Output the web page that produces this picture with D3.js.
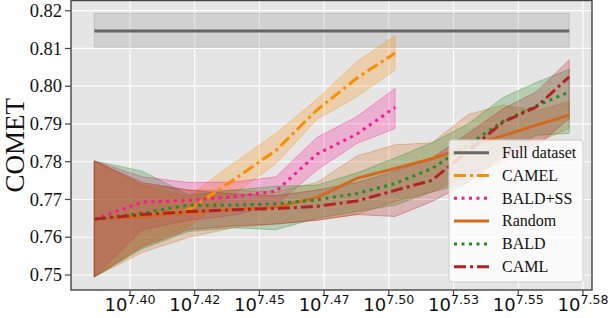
<!DOCTYPE html>
<html lang="en">
<head>
  <meta charset="UTF-8" />
  <title>COMET vs data size</title>
  <script src="https://d3js.org/d3.v7.min.js"></script>
  <style>
    body {
      margin: 0;
      background: #fff;
    }
    svg {
      display: block;
    }
    .grid line {
      stroke: #fff;
      stroke-width: 1.2px;
    }
    .tick-mark {
      stroke: #444;
      stroke-width: 1.2px;
    }
    .band {
      fill-opacity: 0.25;
      stroke-opacity: 0.35;
      stroke-width: 1px;
    }
    .line {
      fill: none;
      stroke-width: 3px;
    }
  </style>
</head>
<body>
<svg width="610" height="318"></svg>
<script>
// x values are log10 of the training set size
const xLog = [7.3862, 7.4048, 7.4226, 7.4398, 7.4564, 7.4722, 7.4876, 7.5024, 7.5167, 7.5306, 7.5441, 7.5570, 7.5697];
// CAMEL and BALD+SS stop earlier
const xShort = [7.3862, 7.4048, 7.4226, 7.4398, 7.4564, 7.4722, 7.4876, 7.5024];

const fullX = [7.3862, 7.5697];
const fullMean = [0.8146, 0.8146];
const fullLo = [0.8103, 0.8103];
const fullHi = [0.8193, 0.8193];

const camelMean = [0.7648, 0.7658, 0.7672, 0.7751, 0.7830, 0.7937, 0.8021, 0.8088];
const camelLo = [0.7495, 0.7580, 0.7628, 0.7712, 0.7795, 0.7912, 0.7972, 0.8043];
const camelHi = [0.7802, 0.7738, 0.7708, 0.7795, 0.7875, 0.7965, 0.8065, 0.8133];

const baldSSMean = [0.7648, 0.7693, 0.7698, 0.7707, 0.7722, 0.7820, 0.7873, 0.7944];
const baldSSLo = [0.7495, 0.7620, 0.7645, 0.7658, 0.7685, 0.7778, 0.7848, 0.7888];
const baldSSHi = [0.7802, 0.7760, 0.7745, 0.7746, 0.7760, 0.7864, 0.7919, 0.7994];

const randomMean = [0.7648, 0.7655, 0.7665, 0.7673, 0.7680, 0.7705, 0.7756, 0.7782, 0.7808, 0.7840, 0.7869, 0.7897, 0.7923];
const randomLo = [0.7495, 0.7560, 0.7600, 0.7625, 0.7635, 0.7645, 0.7660, 0.7695, 0.7720, 0.7765, 0.7800, 0.7850, 0.7889];
const randomHi = [0.7802, 0.7740, 0.7725, 0.7725, 0.7720, 0.7745, 0.7815, 0.7845, 0.7850, 0.7925, 0.7950, 0.7935, 0.7959];

const baldMean = [0.7648, 0.7664, 0.7685, 0.7685, 0.7689, 0.7699, 0.7716, 0.7742, 0.7782, 0.7845, 0.7907, 0.7948, 0.7985];
const baldLo = [0.7495, 0.7570, 0.7615, 0.7625, 0.7620, 0.7650, 0.7668, 0.7685, 0.7720, 0.7745, 0.7820, 0.7870, 0.7875];
const baldHi = [0.7802, 0.7775, 0.7712, 0.7725, 0.7735, 0.7738, 0.7770, 0.7810, 0.7850, 0.7900, 0.7970, 0.8010, 0.8045];

const camlMean = [0.7648, 0.7660, 0.7668, 0.7673, 0.7676, 0.7682, 0.7696, 0.7724, 0.7751, 0.7828, 0.7905, 0.7945, 0.8025];
const camlLo = [0.7495, 0.7575, 0.7620, 0.7630, 0.7635, 0.7645, 0.7660, 0.7655, 0.7695, 0.7745, 0.7810, 0.7840, 0.7915];
const camlHi = [0.7802, 0.7745, 0.7725, 0.7715, 0.7710, 0.7725, 0.7745, 0.7775, 0.7810, 0.7875, 0.7940, 0.7985, 0.8070];

const xTicks = [7.400, 7.425, 7.450, 7.475, 7.500, 7.525, 7.550, 7.575];
const xTickLabels = ["7.40", "7.42", "7.45", "7.47", "7.50", "7.53", "7.55", "7.58"];
const yTicks = [0.75, 0.76, 0.77, 0.78, 0.79, 0.80, 0.81, 0.82];

const series = [
  { name: "Full dataset", x: fullX, mean: fullMean, lo: fullLo, hi: fullHi, color: "#666666", dash: null },
  { name: "CAMEL", x: xShort, mean: camelMean, lo: camelLo, hi: camelHi, color: "#ff8c00", dash: "12,4,3,4" },
  { name: "BALD+SS", x: xShort, mean: baldSSMean, lo: baldSSLo, hi: baldSSHi, color: "#ff1493", dash: "3,4.5" },
  { name: "Random", x: xLog, mean: randomMean, lo: randomLo, hi: randomHi, color: "#d2691e", dash: null },
  { name: "BALD", x: xLog, mean: baldMean, lo: baldLo, hi: baldHi, color: "#228b22", dash: "3,4.5" },
  { name: "CAML", x: xLog, mean: camlMean, lo: camlLo, hi: camlHi, color: "#b22222", dash: "12,4,3,4" }
];

const SERIF = "'Liberation Serif', 'Times New Roman', serif";
const SANS = "'DejaVu Sans', sans-serif";

const svg = d3.select("svg");
const pLeft = 71, pRight = 592, pTop = 0.5, pBottom = 290;

const x = d3.scaleLinear().domain([7.3772, 7.5785]).range([pLeft, pRight]);
const y = d3.scaleLinear().domain([0.74603, 0.8227]).range([pBottom, pTop]);

// plot background
svg.append("rect")
  .attr("x", pLeft).attr("y", pTop)
  .attr("width", pRight - pLeft).attr("height", pBottom - pTop)
  .attr("fill", "#e5e5e5");

// grid
const grid = svg.append("g").attr("class", "grid");
grid.selectAll(".gx").data(xTicks).join("line")
  .attr("class", "gx")
  .attr("x1", d => x(d)).attr("x2", d => x(d))
  .attr("y1", pTop).attr("y2", pBottom);
grid.selectAll(".gy").data(yTicks).join("line")
  .attr("class", "gy")
  .attr("x1", pLeft).attr("x2", pRight)
  .attr("y1", d => y(d)).attr("y2", d => y(d));

svg.append("clipPath").attr("id", "plot-clip")
  .append("rect")
  .attr("x", pLeft).attr("y", pTop)
  .attr("width", pRight - pLeft).attr("height", pBottom - pTop);

const plot = svg.append("g").attr("clip-path", "url(#plot-clip)");

const area = d3.area()
  .x(d => x(d.x))
  .y0(d => y(d.lo))
  .y1(d => y(d.hi));

const line = d3.line()
  .x(d => x(d.x))
  .y(d => y(d.mean));

// bands first, then lines on top
series.forEach(s => {
  const pts = s.x.map((xv, i) => ({ x: xv, mean: s.mean[i], lo: s.lo[i], hi: s.hi[i] }));
  s.pts = pts;
  const c = s.name === "Full dataset" ? "#999" : s.color;
  plot.append("path")
    .attr("class", "band")
    .attr("d", area(pts))
    .attr("fill", c)
    .attr("stroke", c);
});

series.forEach(s => {
  plot.append("path")
    .attr("class", "line")
    .attr("d", line(s.pts))
    .attr("stroke", s.color)
    .attr("stroke-dasharray", s.dash);
});

// spines
svg.append("rect")
  .attr("x", pLeft).attr("y", pTop)
  .attr("width", pRight - pLeft).attr("height", pBottom - pTop)
  .attr("fill", "none")
  .attr("stroke", "#444")
  .attr("stroke-width", 1.4);

// y ticks
const yt = svg.append("g")
  .selectAll("g").data(yTicks).join("g")
  .attr("transform", d => `translate(0,${y(d)})`);
yt.append("line").attr("class", "tick-mark").attr("x1", pLeft - 6).attr("x2", pLeft);
yt.append("text")
  .attr("x", pLeft - 9)
  .attr("dy", "0.33em")
  .attr("text-anchor", "end")
  .attr("font-family", SERIF)
  .attr("font-size", 18.5)
  .attr("fill", "#111")
  .text(d => d.toFixed(2));

// x ticks, 10^k labels
const xt = svg.append("g")
  .selectAll("g").data(xTicks).join("g")
  .attr("transform", d => `translate(${x(d)},0)`);
xt.append("line").attr("class", "tick-mark").attr("y1", pBottom).attr("y2", pBottom + 6);
const xl = xt.append("text")
  .attr("x", 0)
  .attr("y", 311)
  .attr("text-anchor", "middle")
  .attr("font-family", SANS)
  .attr("font-size", 18)
  .attr("fill", "#111");
xl.append("tspan").text("10");
xl.append("tspan")
  .attr("dy", -7)
  .attr("font-size", 12.6)
  .text((d, i) => xTickLabels[i]);

// y label
svg.append("text")
  .attr("transform", `translate(24,${(pTop + pBottom) / 2}) rotate(-90)`)
  .attr("text-anchor", "middle")
  .attr("font-family", SERIF)
  .attr("font-size", 27)
  .attr("fill", "#111")
  .text("COMET");

// legend
const legend = svg.append("g");
legend.append("rect")
  .attr("x", 449).attr("y", 140)
  .attr("width", 134).attr("height", 142)
  .attr("rx", 3)
  .attr("fill", "#fff").attr("fill-opacity", 0.8)
  .attr("stroke", "#ccc");
const item = legend.selectAll(".item").data(series).join("g")
  .attr("class", "item")
  .attr("transform", (d, i) => `translate(0,${152.7 + i * 22.8})`);
item.append("line")
  .attr("x1", 454).attr("x2", 489)
  .attr("stroke", d => d.color)
  .attr("stroke-width", 3)
  .attr("stroke-dasharray", d => d.dash);
item.append("text")
  .attr("x", 502)
  .attr("dy", "0.33em")
  .attr("font-family", SERIF)
  .attr("font-size", 16)
  .attr("fill", "#111")
  .text(d => d.name);
</script>
</body>
</html>
